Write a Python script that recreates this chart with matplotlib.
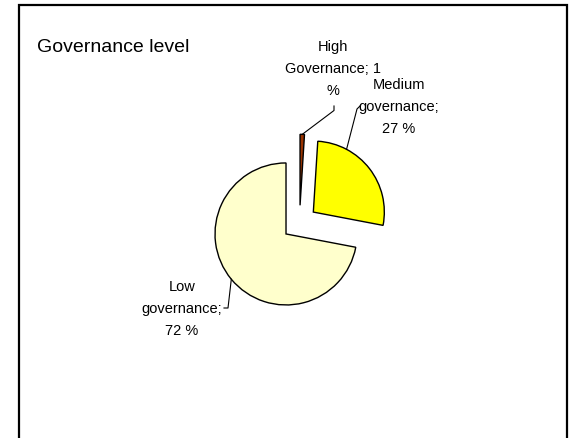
import math
import matplotlib
matplotlib.use("Agg")
import matplotlib.pyplot as plt
from matplotlib.patches import Rectangle

plt.rcParams['font.family'] = ['Liberation Sans', 'DejaVu Sans']

# Share of governance levels (percent)
categories = ["High Governance", "Medium governance", "Low governance"]
values = [1, 27, 72]
colors = ["#993300", "#FFFF00", "#FFFFCC"]
title = "Governance level"

W, H = 584, 439
fig = plt.figure(figsize=(W / 100, H / 100), dpi=100)
ax = fig.add_axes([0, 0, 1, 1])

center = (299.5, H - 223.8)
radius = 71
offset = 17.5

wedges, _ = ax.pie(values, colors=colors, startangle=90, counterclock=False,
                   explode=[offset] * len(values), radius=radius, center=center,
                   wedgeprops=dict(edgecolor="black", linewidth=1.0))
ax.set_xlim(0, W)
ax.set_ylim(0, H)
ax.set_aspect("equal")
ax.axis("off")

# outer frame
ax.add_patch(Rectangle((19, -10), 548, H - 6 + 10, fill=False,
                       edgecolor="black", linewidth=1.6, zorder=5))

ax.text(37, H - 47, title, fontsize=14, ha="left", va="center")


def arc_point(w, frac=0.5):
    tm = math.radians(w.theta1 + frac * (w.theta2 - w.theta1))
    cx, cy = w.center
    return cx + w.r * math.cos(tm), cy + w.r * math.sin(tm)


# data labels, wrapped the way the chart wraps them
label_lines = [
    ["High", f"Governance; {values[0]}", "%"],
    ["Medium", "governance;", f"{values[1]} %"],
    ["Low", "governance;", f"{values[2]} %"],
]

# label centres and leader elbows (pixel layout)
label_pos = [(333, 69), (399, 107), (182, 309)]
line_gap = 22
elbows = [[(334, 111.5), (334, 107)],
          [(357, 110), (360, 107)],
          [(228, 309), (224, 309)]]
anchor_frac = [0.5, 0.75, 0.5]

for w, lines, (lx, ly), elb, fr in zip(wedges, label_lines, label_pos, elbows, anchor_frac):
    for i, line in enumerate(lines):
        yy = ly + (i - 1) * line_gap
        ax.text(lx, H - yy, line, fontsize=10.5, ha="center", va="center")
    px, py = arc_point(w, fr)
    xs = [px] + [p[0] for p in elb]
    ys = [py] + [H - p[1] for p in elb]
    ax.plot(xs, ys, color="black", linewidth=0.8)

fig.savefig("out.png", dpi=100)
